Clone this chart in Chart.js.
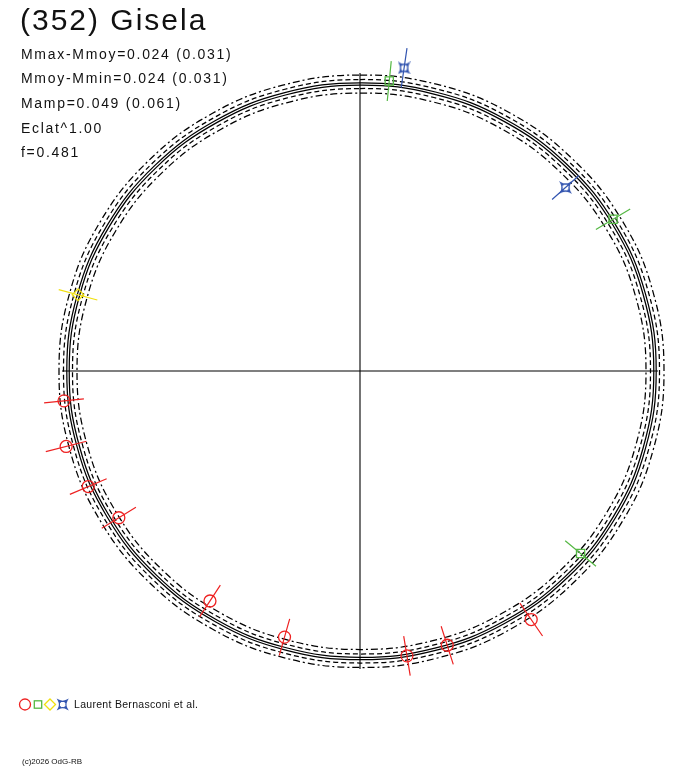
<!DOCTYPE html>
<html>
<head>
<meta charset="utf-8">
<script src="https://cdn.jsdelivr.net/npm/chart.js@4.4.1/dist/chart.umd.min.js"></script>
<style>
html,body{margin:0;padding:0;background:#fff;}
#wrap{position:relative;width:688px;height:768px;overflow:hidden;}
#c{position:absolute;left:0;top:0;}
.t{position:absolute;font-family:"Liberation Sans",Arial,sans-serif;line-height:1;white-space:nowrap;color:#111;}
</style>
</head>
<body>
<div id="wrap">
<canvas id="c" width="688" height="768"></canvas>
</div>
<script>
// ---------- texts ----------
const titleText = '(352) Gisela';
const statLines = ['Mmax-Mmoy=0.024 (0.031)', 'Mmoy-Mmin=0.024 (0.031)', 'Mamp=0.049 (0.061)', 'Eclat^1.00', 'f=0.481'];
const observerLabel = 'Laurent Bernasconi et al.';
const copyrightText = '(c)2026 OdG-RB';

// ---------- fitted light curve (phase -> relative magnitude) ----------
const curvePhase = [0, 0.042, 0.083, 0.125, 0.167, 0.208, 0.25, 0.292, 0.333, 0.375, 0.417, 0.458,
                    0.5, 0.542, 0.583, 0.625, 0.667, 0.708, 0.75, 0.792, 0.833, 0.875, 0.917, 0.958];
const curveMag = [0.017, 0.013, 0.005, -0.004, -0.014, -0.0205, -0.023, -0.021, -0.015, -0.006, 0.003, 0.0105,
                  0.0145, 0.014, 0.0105, 0.0045, -0.002, -0.0065, -0.008, -0.006, -0.001, 0.006, 0.0125, 0.0165];
// envelope offsets (mag) for solid / dashed / dash-dot curves
const solidOffsets = [-0.006, 0.006];
const dashedOffsets = [-0.0225, 0.0225];
const dashDotOffsets = [-0.045, 0.045];

// ---------- observations (phase, relative mag, error) ----------
const sessionLabels = ['Session 1', 'Session 2', 'Session 3', 'Session 4'];
const s1Phase = [0.734, 0.710, 0.686, 0.663, 0.592, 0.544, 0.474, 0.451, 0.404];
const s1Mag   = [-0.0355, -0.065, -0.0245, 0.0405, 0.079, 0.069, 0.0085, 0.013, -0.057];
const s1Err   = [0.10, 0.105, 0.10, 0.10, 0.095, 0.095, 0.10, 0.10, 0.10];
const s2Phase = [0.016, 0.164, 0.360];
const s2Mag   = [-0.005, -0.0235, 0.0205];
const s2Err   = [0.10, 0.10, 0.10];
const s3Phase = [0.792];
const s3Mag   = [-0.0085];
const s3Err   = [0.10];
const s4Phase = [0.023, 0.134];
const s4Mag   = [-0.0795, 0.0745];
const s4Err   = [0.10, 0.09];

// ---------- geometry / style ----------
const R0 = 290.4;      // radius of mean magnitude (scale units)
const K = 200;         // scale units per magnitude
const AXIS_R = 298;    // half length of the cross axes
const COLORS = ['#ee2222', '#55b844', '#f0e010', '#3355b0'];

function polar(phase, mag) {
  const r = R0 - K * mag;
  const a = phase * 2 * Math.PI;
  return { x: r * Math.sin(a), y: r * Math.cos(a) };
}
// closed loop: [last, first..last, first, second]; first and last segments hidden
function curvePoints(offset) {
  const pts = curvePhase.map((p, i) => polar(p, curveMag[i] + offset));
  const n = pts.length;
  return [pts[n - 1]].concat(pts, [pts[0], pts[1]]);
}
function errPoints(ph, mg, er) {
  const pts = [];
  ph.forEach((p, i) => {
    pts.push(polar(p, mg[i] + er[i]));
    pts.push(polar(p, mg[i] - er[i]));
    pts.push({ x: NaN, y: NaN });
  });
  return pts;
}

function drawStar(c, cx, cy, s, color) {
  c.save();
  c.strokeStyle = color; c.lineWidth = 1.3;
  c.beginPath();
  c.moveTo(cx - s, cy - s);
  c.quadraticCurveTo(cx, cy - s * 0.45, cx + s, cy - s);
  c.quadraticCurveTo(cx + s * 0.45, cy, cx + s, cy + s);
  c.quadraticCurveTo(cx, cy + s * 0.45, cx - s, cy + s);
  c.quadraticCurveTo(cx - s * 0.45, cy, cx - s, cy - s);
  c.closePath();
  c.moveTo(cx - s, cy - s); c.lineTo(cx - s * 0.45, cy - s * 0.45);
  c.moveTo(cx + s, cy - s); c.lineTo(cx + s * 0.45, cy - s * 0.45);
  c.moveTo(cx + s, cy + s); c.lineTo(cx + s * 0.45, cy + s * 0.45);
  c.moveTo(cx - s, cy + s); c.lineTo(cx - s * 0.45, cy + s * 0.45);
  c.stroke();
  c.restore();
}
function makeStar(color) {
  const cv = document.createElement('canvas');
  cv.width = 13; cv.height = 13;
  drawStar(cv.getContext('2d'), 6.5, 6.5, 4.8, color);
  return cv;
}
const starImg = makeStar(COLORS[3]);

const sessions = [
  { ph: s1Phase, mg: s1Mag, er: s1Err, style: 'circle', radius: 6 },
  { ph: s2Phase, mg: s2Mag, er: s2Err, style: 'rect', radius: 5.8 },
  { ph: s3Phase, mg: s3Mag, er: s3Err, style: 'rectRot', radius: 5.8 },
  { ph: s4Phase, mg: s4Mag, er: s4Err, style: starImg, radius: 6 }
];

const datasets = [];
sessions.forEach((s, k) => {
  datasets.push({
    label: sessionLabels[k],
    data: s.ph.map((p, i) => polar(p, s.mg[i])),
    pointStyle: s.style,
    pointRadius: s.radius,
    pointHoverRadius: s.radius,
    pointBorderColor: COLORS[k],
    pointBackgroundColor: 'rgba(0,0,0,0)',
    pointBorderWidth: 1.3,
    showLine: false
  });
});
sessions.forEach((s, k) => {
  datasets.push({
    label: sessionLabels[k] + ' err',
    data: errPoints(s.ph, s.mg, s.er),
    showLine: true, spanGaps: false, pointRadius: 0,
    borderColor: COLORS[k], borderWidth: 1.2
  });
});
const loopLast = curvePhase.length + 1;
const curveStyle = {
  showLine: true, pointRadius: 0, borderColor: '#000', borderWidth: 1.25, tension: 0.4, fill: false,
  segment: {
    borderColor: ctx => (ctx.p0DataIndex === 0 || ctx.p0DataIndex === loopLast) ? 'rgba(0,0,0,0)' : undefined
  }
};
solidOffsets.forEach(o => datasets.push(Object.assign({ label: 'fit', data: curvePoints(o) }, curveStyle)));
dashedOffsets.forEach(o => datasets.push(Object.assign({ label: 'dash', data: curvePoints(o), borderDash: [5, 3] }, curveStyle)));
dashDotOffsets.forEach(o => datasets.push(Object.assign({ label: 'dashdot', data: curvePoints(o), borderDash: [7, 3, 2, 3] }, curveStyle)));
datasets.push({ label: 'axis-h', data: [{ x: -AXIS_R, y: 0 }, { x: AXIS_R, y: 0 }], showLine: true, pointRadius: 0, borderColor: '#000', borderWidth: 1.1 });
datasets.push({ label: 'axis-v', data: [{ x: 0, y: -AXIS_R }, { x: 0, y: AXIS_R }], showLine: true, pointRadius: 0, borderColor: '#000', borderWidth: 1.1 });

// legend symbols drawn under the chart
const legendPlugin = {
  id: 'symbolLegend',
  afterDraw(chart) {
    const c = chart.ctx;
    const y = 704.5;
    c.save();
    c.lineWidth = 1.3;
    c.strokeStyle = COLORS[0];
    c.beginPath(); c.arc(25, y, 5.5, 0, Math.PI * 2); c.stroke();
    c.strokeStyle = COLORS[1];
    c.strokeRect(34.3, y - 3.7, 7.4, 7.4);
    c.strokeStyle = COLORS[2];
    c.beginPath(); c.moveTo(50, y - 5.5); c.lineTo(55.5, y); c.lineTo(50, y + 5.5); c.lineTo(44.5, y); c.closePath(); c.stroke();
    drawStar(c, 62.7, y, 4.4, COLORS[3]);
    c.restore();
  }
};

new Chart(document.getElementById('c'), {
  type: 'scatter',
  data: { datasets },
  options: {
    responsive: false,
    animation: false,
    devicePixelRatio: 1,
    layout: { padding: 0, autoPadding: false },
    plugins: { legend: { display: false }, tooltip: { enabled: false }, title: { display: false } },
    scales: {
      x: { type: 'linear', display: false, min: -360, max: 328 },
      y: { type: 'linear', display: false, min: -397, max: 371 }
    },
    elements: { line: { capBezierPoints: false } }
  },
  plugins: [legendPlugin]
});

// ---------- text overlays ----------
const wrap = document.getElementById('wrap');
function addText(txt, left, top, size, spacing) {
  const d = document.createElement('div');
  d.className = 't';
  d.textContent = txt;
  d.style.left = left + 'px';
  d.style.top = top + 'px';
  d.style.fontSize = size + 'px';
  d.style.letterSpacing = spacing + 'px';
  wrap.appendChild(d);
}
addText(titleText, 20, 5, 30, 2);
const statTops = [46.5, 71.2, 95.9, 120.6, 145.2];
statLines.forEach((s, i) => addText(s, 21, statTops[i], 14, 1.7));
addText(observerLabel, 74, 699, 10.5, 0.3);
addText(copyrightText, 22, 757.5, 8, 0);
</script>
</body>
</html>
